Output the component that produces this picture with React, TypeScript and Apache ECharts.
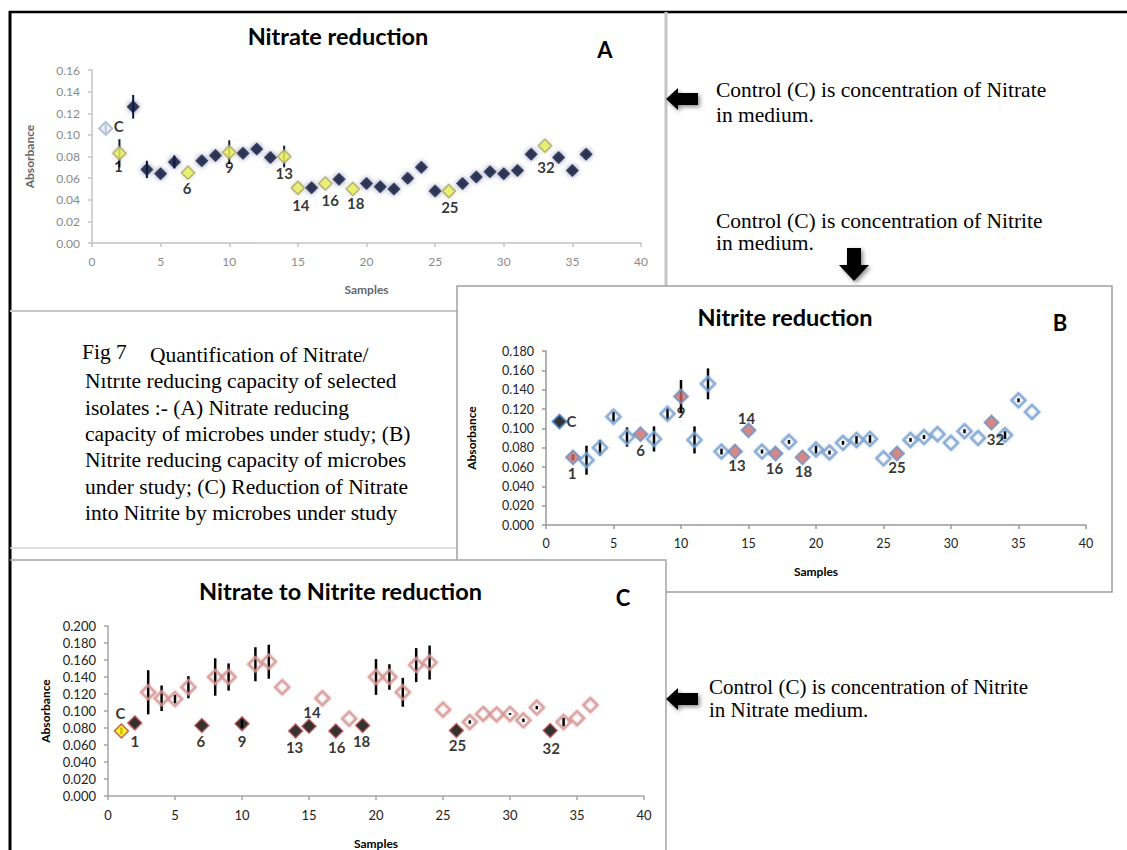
import React, { useEffect, useRef } from "react";
import * as echarts from "echarts";

// ---------- data ----------
const samples = [1, 2, 3, 4, 5, 6, 7, 8, 9, 10, 11, 12, 13, 14, 15, 16, 17, 18, 19, 20, 21, 22, 23, 24, 25, 26, 27, 28, 29, 30, 31, 32, 33, 34, 35, 36];

const nitrateReduction = [0.106, 0.083, 0.126, 0.068, 0.064, 0.075, 0.065, 0.076, 0.081, 0.084, 0.083, 0.087, 0.079, 0.080, 0.051, 0.051, 0.055, 0.059, 0.050, 0.055, 0.052, 0.050, 0.060, 0.070, 0.048, 0.048, 0.055, 0.061, 0.066, 0.064, 0.067, 0.082, 0.090, 0.079, 0.067, 0.082];
const nitrateReductionErr = [0.004, 0.013, 0.011, 0.008, 0, 0.006, 0, 0, 0, 0.011, 0, 0, 0, 0.010, 0, 0, 0, 0, 0, 0, 0, 0, 0, 0, 0, 0, 0, 0, 0, 0, 0, 0, 0, 0, 0, 0];

const nitriteReduction = [0.107, 0.070, 0.067, 0.080, 0.112, 0.091, 0.094, 0.089, 0.115, 0.133, 0.088, 0.146, 0.076, 0.076, 0.098, 0.076, 0.074, 0.086, 0.070, 0.078, 0.075, 0.085, 0.088, 0.089, 0.069, 0.074, 0.088, 0.091, 0.094, 0.085, 0.097, 0.090, 0.106, 0.093, 0.129, 0.117];
const nitriteReductionErr = [0, 0.003, 0.015, 0.008, 0.005, 0.010, 0, 0.013, 0.006, 0.017, 0.014, 0.016, 0.003, 0, 0, 0.002, 0, 0.002, 0, 0.004, 0.002, 0.002, 0.004, 0.004, 0, 0, 0.002, 0.002, 0, 0, 0.002, 0, 0, 0.004, 0.002, 0];

const nitrateToNitrite = [0.0765, 0.086, 0.122, 0.115, 0.114, 0.128, 0.083, 0.140, 0.140, 0.085, 0.155, 0.158, 0.128, 0.0765, 0.082, 0.115, 0.0765, 0.091, 0.083, 0.140, 0.140, 0.122, 0.154, 0.157, 0.1015, 0.077, 0.087, 0.0965, 0.096, 0.0965, 0.089, 0.104, 0.077, 0.087, 0.0915, 0.107];
const nitrateToNitriteErr = [0.004, 0, 0.026, 0.015, 0.005, 0.013, 0, 0.022, 0.016, 0.005, 0.020, 0.020, 0, 0, 0, 0, 0, 0, 0, 0.021, 0.015, 0.017, 0.020, 0.020, 0, 0, 0.002, 0, 0, 0.001, 0.002, 0.002, 0, 0.005, 0, 0];

const controlSample = 1;
const controlLabel = "C";
const labelledSamples = [2, 7, 10, 14, 15, 17, 19, 26, 33];
const sampleLabels = ["1", "6", "9", "13", "14", "16", "18", "25", "32"];

const xTicks = { min: 0, max: 40, interval: 5 };

// ---------- label placement (style) ----------
const offsetsA = [[-1, 13], [-1, 15], [0, 15], [0, 16], [3, 17], [5, 16], [3, 14], [1, 16], [1, 21]];
const controlOffsetA = [13, -2];
const offsetsB = [[-1, 16], [0, 16], [0, 16], [2, 13], [-2, -12], [-1, 15], [1, 14], [0, 14], [4, 16]];
const controlOffsetB = [12, -1];
const offsetsC = [[0, 18], [-1, 16], [0, 17], [-1, 16], [3, -14], [1, 16], [-1, 16], [1, 14], [1, 17]];
const controlOffsetC = [-1, -18];

const SANS = "Lato";
const SERIF = "Liberation Serif";

function makeAxes(gi, yMax, decimals, st) {
  const lineStyle = { color: st.axisColor, width: st.axisWidth };
  const xAxis = {
    gridIndex: gi,
    type: "value",
    min: xTicks.min,
    max: xTicks.max,
    interval: xTicks.interval,
    name: "Samples",
    nameLocation: "middle",
    nameGap: st.xNameGap,
    nameTextStyle: { fontFamily: SANS, fontWeight: "bold", fontSize: 12, color: st.nameColor },
    axisLine: { show: true, onZero: false, lineStyle },
    axisTick: { show: true, length: 4, lineStyle },
    axisLabel: { color: st.labelColor, fontFamily: SANS, fontSize: st.labelSize, margin: 12 },
    splitLine: { show: false },
  };
  const yAxis = {
    gridIndex: gi,
    type: "value",
    min: 0,
    max: yMax,
    interval: 0.02,
    name: "Absorbance",
    nameLocation: "middle",
    nameGap: st.yNameGap,
    nameRotate: 90,
    nameTextStyle: { fontFamily: SANS, fontWeight: "bold", fontSize: 12, color: st.nameColor },
    axisLine: { show: true, lineStyle },
    axisTick: { show: true, length: 4, lineStyle },
    axisLabel: {
      color: st.labelColor,
      fontFamily: SANS,
      fontSize: st.labelSize,
      margin: 12,
      formatter: (v) => v.toFixed(decimals),
    },
    splitLine: { show: false },
  };
  return { xAxis, yAxis };
}

function makeSeries(gi, vals, errs, st, offsets, controlOffset) {
  const labelBase = {
    show: true,
    position: "inside",
    fontFamily: SANS,
    fontWeight: "bold",
    fontSize: 15,
    color: "#000",
  };
  const errSeries = {
    type: "custom",
    xAxisIndex: gi,
    yAxisIndex: gi,
    z: 1,
    silent: true,
    clip: false,
    data: samples.map((s, i) => [s, vals[i], errs[i]]).filter((d) => d[2] > 0),
    encode: { x: 0, y: 1 },
    renderItem: (params, api) => {
      const x = api.value(0);
      const y = api.value(1);
      const e = api.value(2);
      const p1 = api.coord([x, y + e]);
      const p2 = api.coord([x, y - e]);
      return {
        type: "line",
        shape: { x1: p1[0], y1: p1[1], x2: p2[0], y2: p2[1] },
        style: { stroke: st.errColor, lineWidth: st.errWidth },
      };
    },
  };
  const normal = {
    type: "scatter",
    xAxisIndex: gi,
    yAxisIndex: gi,
    z: 3,
    symbol: "diamond",
    symbolSize: st.size,
    itemStyle: st.normal,
    data: samples
      .filter((s) => s !== controlSample && labelledSamples.indexOf(s) < 0)
      .map((s) => [s, vals[s - 1]]),
  };
  const highlighted = {
    type: "scatter",
    xAxisIndex: gi,
    yAxisIndex: gi,
    z: 4,
    symbol: "diamond",
    symbolSize: st.size,
    itemStyle: st.highlight,
    label: labelBase,
    data: labelledSamples.map((s, k) => ({
      value: [s, vals[s - 1]],
      label: { formatter: sampleLabels[k], offset: offsets[k] },
    })),
  };
  const control = {
    type: "scatter",
    xAxisIndex: gi,
    yAxisIndex: gi,
    z: 4,
    symbol: "diamond",
    symbolSize: st.size,
    itemStyle: st.control,
    label: labelBase,
    data: [
      {
        value: [controlSample, vals[controlSample - 1]],
        label: { formatter: controlLabel, offset: controlOffset },
      },
    ],
  };
  return [errSeries, normal, highlighted, control];
}

function txt(text, x, y, opts = {}) {
  const align = opts.align || "left";
  const size = opts.size || 21.5;
  return {
    type: "text",
    x,
    y,
    z: 10,
    style: {
      text,
      fill: opts.color || "#000",
      fontFamily: opts.family || SERIF,
      fontSize: size,
      fontWeight: opts.weight || "normal",
      lineHeight: opts.lineHeight || Math.round(size * 0.9),
      align,
      textAlign: align,
      verticalAlign: "middle",
      textVerticalAlign: "middle",
    },
  };
}

function line(points, color, width) {
  return {
    type: "polyline",
    z: 5,
    shape: { points },
    style: { stroke: color, lineWidth: width, fill: null },
  };
}

function arrow(points) {
  return {
    type: "polygon",
    z: 6,
    shape: { points },
    style: {
      fill: "#000",
      shadowBlur: 4,
      shadowColor: "rgba(0,0,0,0.45)",
      shadowOffsetX: 2,
      shadowOffsetY: 2,
    },
  };
}

export default function App() {
  const ref = useRef(null);
  useEffect(() => {
    if (!ref.current) return;
    const chart = echarts.init(ref.current, null, { renderer: "svg" });

    const stA = {
      axisColor: "#c4c4c4",
      axisWidth: 1.5,
      labelColor: "#8a8a8a",
      labelSize: 12,
      nameColor: "#666",
      xNameGap: 40,
      yNameGap: 57,
      size: 13,
      errColor: "#0b1a3a",
      errWidth: 2,
      normal: { color: "#0b1a3a", shadowBlur: 5, shadowColor: "rgba(0,20,90,0.6)" },
      highlight: { color: "#eef25a", borderColor: "#a3a56a", borderWidth: 1.5, shadowBlur: 4, shadowColor: "rgba(120,120,60,0.4)" },
      control: { color: "#e6edf5", borderColor: "#9fb3c8", borderWidth: 2 },
    };
    const stB = {
      axisColor: "#999",
      axisWidth: 1.5,
      labelColor: "#222",
      labelSize: 12.5,
      nameColor: "#000",
      xNameGap: 40,
      yNameGap: 69,
      size: 14,
      errColor: "#000",
      errWidth: 2.5,
      normal: { color: "rgba(255,255,255,0)", borderColor: "#7ba3d0", borderWidth: 2.5, shadowBlur: 3, shadowColor: "rgba(90,130,190,0.45)" },
      highlight: { color: "#c96a66", borderColor: "#6d93c5", borderWidth: 2 },
      control: { color: "#000", borderColor: "#4f81bd", borderWidth: 2 },
    };
    const stC = {
      axisColor: "#a6a6a6",
      axisWidth: 1.5,
      labelColor: "#222",
      labelSize: 13,
      nameColor: "#000",
      xNameGap: 41,
      yNameGap: 57,
      size: 14,
      errColor: "#000",
      errWidth: 2.5,
      normal: { color: "rgba(255,255,255,0)", borderColor: "#d99694", borderWidth: 2.5, shadowBlur: 3, shadowColor: "rgba(150,100,100,0.45)" },
      highlight: { color: "#000", borderColor: "#c0504d", borderWidth: 1.5 },
      control: { color: "#ffee00", borderColor: "#b0403d", borderWidth: 1.5 },
    };

    const axA = makeAxes(0, 0.16, 2, stA);
    const axB = makeAxes(1, 0.18, 3, stB);
    const axC = makeAxes(2, 0.2, 3, stC);

    const titleOpts = { family: SANS, weight: "bold", size: 23.5, align: "center", lineHeight: 24 };

    const graphic = [
      // frame and panel borders
      line([[9, 12], [1127, 12]], "#000", 2.5),
      line([[10, 11], [10, 850]], "#000", 3),
      line([[666, 12], [666, 286]], "#c4c4c4", 3),
      line([[10, 311], [457, 311]], "#c8c8c8", 2),
      line([[10, 548], [457, 548]], "#d4d4d4", 1.5),
      line([[457, 560], [457, 286], [1112, 286], [1112, 592], [666, 592]], "#a0a0a0", 1.5),
      line([[10, 560], [666, 560], [666, 850]], "#a6a6a6", 1.5),
      // titles
      txt("Nitrate reduction", 338, 36, titleOpts),
      txt("A", 605, 49.5, { family: SANS, weight: "bold", size: 22, align: "center" }),
      txt("Nitrite reduction", 785, 317, titleOpts),
      txt("B", 1060, 322, { family: SANS, weight: "bold", size: 22, align: "center" }),
      txt("Nitrate to Nitrite reduction", 340.5, 591, titleOpts),
      txt("C", 623, 597, { family: SANS, weight: "bold", size: 22, align: "center" }),
      // notes (multi-line blocks)
      txt("Control (C) is concentration of Nitrate\nin medium.", 716, 102.2, { lineHeight: 25 }),
      txt("Control (C) is concentration of Nitrite\nin medium.", 716, 232.2, { lineHeight: 22.5 }),
      txt("Control (C) is concentration of Nitrite\nin Nitrate medium.", 709, 698.5, { lineHeight: 22.5, size: 21 }),
      // caption
      txt("Fig 7", 82, 352),
      txt("Quantification of Nitrate/", 150, 354.7),
      txt(
        "Nıtrıte reducing capacity of selected\nisolates :- (A) Nitrate reducing\ncapacity of microbes under study; (B)\nNitrite reducing capacity of microbes\nunder study; (C) Reduction of Nitrate\ninto Nitrite by microbes under study",
        85,
        447.2,
        { lineHeight: 26.4 }
      ),
      // arrows
      arrow([[666, 99], [678, 88], [678, 93], [698, 93], [698, 105], [678, 105], [678, 110]]),
      arrow([[847, 248], [861, 248], [861, 265], [869, 265], [854, 281], [839, 265], [847, 265]]),
      arrow([[666, 699], [678, 688], [678, 693], [698, 693], [698, 705], [678, 705], [678, 710]]),
    ];

    chart.setOption({
      animation: false,
      backgroundColor: "#fff",
      grid: [
        { left: 92, top: 70, width: 549, height: 173 },
        { left: 546, top: 351, width: 540, height: 174 },
        { left: 108, top: 626, width: 536, height: 172 },
      ],
      xAxis: [axA.xAxis, axB.xAxis, axC.xAxis],
      yAxis: [axA.yAxis, axB.yAxis, axC.yAxis],
      graphic,
      series: [
        ...makeSeries(0, nitrateReduction, nitrateReductionErr, stA, offsetsA, controlOffsetA),
        ...makeSeries(1, nitriteReduction, nitriteReductionErr, stB, offsetsB, controlOffsetB),
        ...makeSeries(2, nitrateToNitrite, nitrateToNitriteErr, stC, offsetsC, controlOffsetC),
      ],
    });
    return () => chart.dispose();
  }, []);
  return (
    <div
      ref={ref}
      style={{ position: "absolute", left: 0, top: 0, width: 1127, height: 850 }}
    />
  );
}
